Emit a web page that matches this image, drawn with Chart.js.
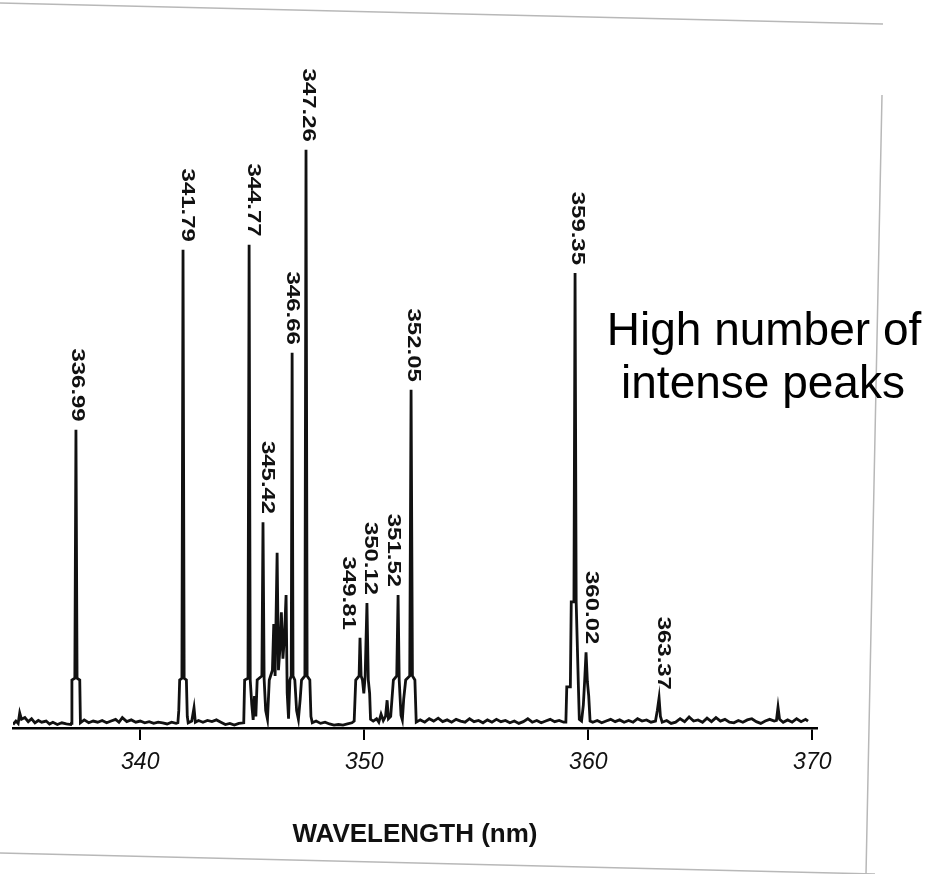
<!DOCTYPE html>
<html>
<head>
<meta charset="utf-8">
<script src="https://cdn.jsdelivr.net/npm/chart.js"></script>
<style>
  html, body { margin: 0; padding: 0; background: #fff; }
</style>
</head>
<body>
<canvas id="spectrum" width="933" height="874"></canvas>
<script>
// emission spectrum (intensity in % of the 347.26 line)
const traceNm = [
  334.32, 334.45, 334.55, 334.62, 334.70, 334.85, 335.00, 335.15, 335.30, 335.45, 335.60, 335.80, 335.95, 336.10, 336.30, 336.50, 336.70, 336.90,
  336.92, 336.95, 337.08, 337.13, 337.18, 337.30, 337.33,
  337.50, 337.70, 337.90, 338.10, 338.30, 338.50, 338.70, 338.90, 339.05, 339.20, 339.40, 339.60, 339.80, 340.00, 340.20, 340.40, 340.60, 340.80, 341.00, 341.20, 341.40, 341.60,
  341.68, 341.72, 341.76, 341.86, 341.91, 341.96, 342.06, 342.10, 342.14,
  342.30, 342.40, 342.46, 342.60, 342.80, 343.00, 343.20, 343.40, 343.60, 343.80, 344.00, 344.20, 344.40,
  344.62, 344.66, 344.81, 344.86, 344.91, 344.98, 345.04, 345.10, 345.16, 345.22, 345.43, 345.48, 345.53, 345.60, 345.68, 345.76,
  345.90, 345.96, 346.02, 346.11, 346.17, 346.24, 346.30, 346.37, 346.44, 346.51, 346.56, 346.62, 346.68, 346.74, 346.78, 346.82,
  346.90, 346.98, 347.06, 347.14, 347.20, 347.35, 347.40, 347.45, 347.57, 347.62, 347.68,
  347.85, 348.05, 348.25, 348.45, 348.65, 348.85, 349.05, 349.25, 349.45, 349.55,
  349.62, 349.77, 349.81, 349.86, 349.92, 349.98, 350.04, 350.12, 350.18, 350.24, 350.28,
  350.40, 350.55, 350.65, 350.75, 350.85, 350.95, 351.02, 351.08, 351.18,
  351.30, 351.45, 351.51, 351.56, 351.64, 351.70, 351.76, 351.85, 352.03, 352.09, 352.15, 352.26, 352.32,
  352.50, 352.70, 352.90, 353.10, 353.30, 353.50, 353.70, 353.90, 354.10, 354.30, 354.50, 354.70, 354.90, 355.10, 355.30, 355.50, 355.70, 355.90,
  356.10, 356.30, 356.50, 356.70, 356.90, 357.10, 357.30, 357.50, 357.70, 357.90, 358.10, 358.30, 358.50, 358.70, 358.90,
  359.00, 359.04, 359.20, 359.24, 359.36, 359.41, 359.46, 359.56, 359.60, 359.70, 359.78, 359.84, 359.90, 359.96, 360.02, 360.08,
  360.20, 360.40, 360.60, 360.80, 361.00, 361.20, 361.40, 361.60, 361.80, 362.00, 362.20, 362.40, 362.60, 362.80, 363.00,
  363.08, 363.16, 363.22, 363.30,
  363.50, 363.70, 363.90, 364.10, 364.30, 364.50, 364.70, 364.90, 365.10, 365.30, 365.50, 365.70, 365.90, 366.10, 366.30, 366.50,
  366.70, 366.90, 367.10, 367.30, 367.50, 367.70, 367.90, 368.10, 368.30, 368.40, 368.47, 368.54, 368.70, 368.90, 369.10, 369.30, 369.50, 369.70, 369.81
];
const traceInt = [
  0.6, 1.2, 0.8, 2.6, 1.5, 1.8, 1.1, 1.6, 0.9, 1.3, 1.0, 1.2, 0.7, 1.0, 0.6, 0.9, 0.7, 0.6,
  0.8, 8.3, 8.6, 51.6, 8.6, 8.3, 0.9,
  1.4, 0.9, 1.2, 1.0, 1.3, 0.9, 1.2, 1.5, 1.0, 1.8, 1.1, 1.4, 1.0, 1.2, 0.9, 1.1, 0.8, 1.0, 0.9, 0.7, 1.0, 0.8,
  0.9, 3.0, 8.3, 8.6, 82.7, 8.6, 8.3, 2.0, 0.9,
  1.2, 3.5, 1.0, 1.3, 1.0, 1.3, 1.1, 1.4, 1.0, 0.6, 0.8, 0.5, 0.8,
  0.9, 8.3, 8.6, 83.6, 8.3, 4.0, 1.4, 5.5, 2.0, 8.3, 9.0, 35.6, 8.5, 3.0, 1.5, 8.3,
  10, 18, 9, 30.3, 10, 14, 20, 12, 16, 23.0, 6, 1.6, 8.3, 9, 64.9, 9,
  8.3, 3, 1.5, 5, 8.3, 9, 100, 9, 8.3, 2, 0.9,
  1.2, 0.8, 1.0, 0.7, 0.5, 0.6, 0.5, 0.7, 0.9, 1.2,
  8.3, 9, 15.6, 9, 8.3, 6, 9, 21.6, 8.3, 6, 1.5,
  1.2, 1.6, 1.0, 2.4, 1.3, 2.0, 4.8, 1.6, 2.0,
  8.3, 9, 23.0, 8.3, 2.2, 1.4, 5, 8.3, 9, 58.5, 9, 8.3, 1.0,
  1.4, 1.0, 1.6, 1.2, 1.7, 1.1, 1.4, 1.0, 1.5, 1.2, 1.0, 1.6, 1.1, 1.3, 0.9, 1.4, 1.0, 1.5,
  1.1, 1.3, 0.9, 1.2, 0.8, 1.1, 1.6, 1.0, 1.3, 0.9, 1.2, 1.5, 1.1, 1.3, 1.0,
  1.0, 7.1, 7.1, 21.8, 21.8, 78.7, 21.8, 7.1, 1.5, 1.2, 4.0, 8.3, 13.1, 8, 5.5, 1.2,
  1.0, 1.3, 0.9, 1.2, 1.5, 1.1, 1.4, 1.0, 1.3, 1.0, 1.6, 1.2, 1.4, 1.0, 1.2,
  3.0, 5.2, 2.0, 1.0,
  1.3, 0.8, 1.0, 1.6, 1.1, 1.9, 1.2, 1.4, 1.0, 1.7, 1.1, 1.8, 1.2, 1.5, 1.0, 0.9,
  1.3, 1.0, 1.4, 1.6, 1.1, 0.8, 1.2, 1.5, 1.2, 1.3, 3.6, 1.5, 1.0, 1.4, 1.0, 1.6, 1.1, 1.5, 1.2
];

// labelled lines
const peakLabels = ['336.99', '341.79', '344.77', '345.42', '346.66', '347.26', '349.81', '350.12', '351.52', '352.05', '359.35', '360.02', '363.37'];
const peakNm = [337.13, 341.91, 344.86, 345.48, 346.78, 347.40, 349.81, 350.12, 351.51, 352.09, 359.41, 359.90, 363.16];
const peakInt = [51.6, 82.7, 83.6, 35.6, 64.9, 100, 15.6, 21.6, 23.0, 58.5, 78.7, 13.1, 5.2];

const xTicks = [340, 350, 360, 370];
const noteLines = ['High number of', 'intense peaks'];

// little nudges so crowded labels sit where the scan has them
const labelDx = [1, 4, 4, 4, 0, 2, -12, 3, -5, 2, 2, 5, 4];

const scanPlugin = {
  id: 'scan',
  beforeDraw(chart) {
    const ctx = chart.ctx;
    ctx.save();
    ctx.strokeStyle = '#b8b8b8';
    ctx.lineWidth = 1.5;
    ctx.beginPath();
    ctx.moveTo(0, 3); ctx.lineTo(883, 24);
    ctx.moveTo(882, 95); ctx.lineTo(866, 874);
    ctx.moveTo(0, 853); ctx.lineTo(875, 874);
    ctx.stroke();
    ctx.restore();
  },
  afterDatasetsDraw(chart) {
    const ctx = chart.ctx;
    const xs = chart.scales.x, ys = chart.scales.y;
    ctx.save();
    ctx.fillStyle = '#111';
    ctx.font = 'bold 18px "Liberation Sans", Arial, sans-serif';
    ctx.textAlign = 'right';
    ctx.textBaseline = 'middle';
    peakLabels.forEach((t, i) => {
      const px = xs.getPixelForValue(peakNm[i]) + labelDx[i];
      const py = ys.getPixelForValue(peakInt[i]) - 8;
      ctx.save();
      ctx.translate(px, py);
      ctx.rotate(Math.PI / 2);
      ctx.scale(1.33, 1);
      ctx.fillText(t, 0, 0);
      ctx.restore();
    });
    ctx.font = '46px "Liberation Sans", Arial, sans-serif';
    ctx.textAlign = 'center';
    ctx.textBaseline = 'alphabetic';
    ctx.fillStyle = '#000';
    ctx.fillText(noteLines[0], 764, 345);
    ctx.fillText(noteLines[1], 763, 398);
    ctx.restore();
  }
};

new Chart(document.getElementById('spectrum'), {
  type: 'scatter',
  data: {
    datasets: [{
      data: traceNm.map((x, i) => ({ x: x, y: traceInt[i] })),
      showLine: true,
      borderColor: '#111',
      borderWidth: 2.8,
      pointRadius: 0,
      tension: 0
    }]
  },
  options: {
    responsive: false,
    animation: false,
    layout: { padding: { left: 13, right: 116, top: 92, bottom: 0 } },
    plugins: {
      legend: { display: false },
      tooltip: { enabled: false }
    },
    scales: {
      x: {
        type: 'linear',
        min: 334.32,
        max: 370.21,
        afterBuildTicks: s => { s.ticks = xTicks.map(v => ({ value: v })); },
        afterFit: s => { s.height = 146; },
        border: { color: '#000', width: 2.5 },
        grid: { drawOnChartArea: false, color: '#000', lineWidth: 2, tickLength: 12 },
        ticks: {
          color: '#111',
          padding: 9,
          maxRotation: 0,
          font: { family: 'Liberation Sans', size: 23, style: 'italic' }
        },
        title: {
          display: true,
          text: 'WAVELENGTH (nm)',
          color: '#111',
          font: { family: 'Liberation Sans', size: 26, weight: 'bold' },
          padding: { top: 0, bottom: 24 }
        }
      },
      y: { display: false, min: 0, max: 110 }
    }
  },
  plugins: [scanPlugin]
});
</script>
</body>
</html>
